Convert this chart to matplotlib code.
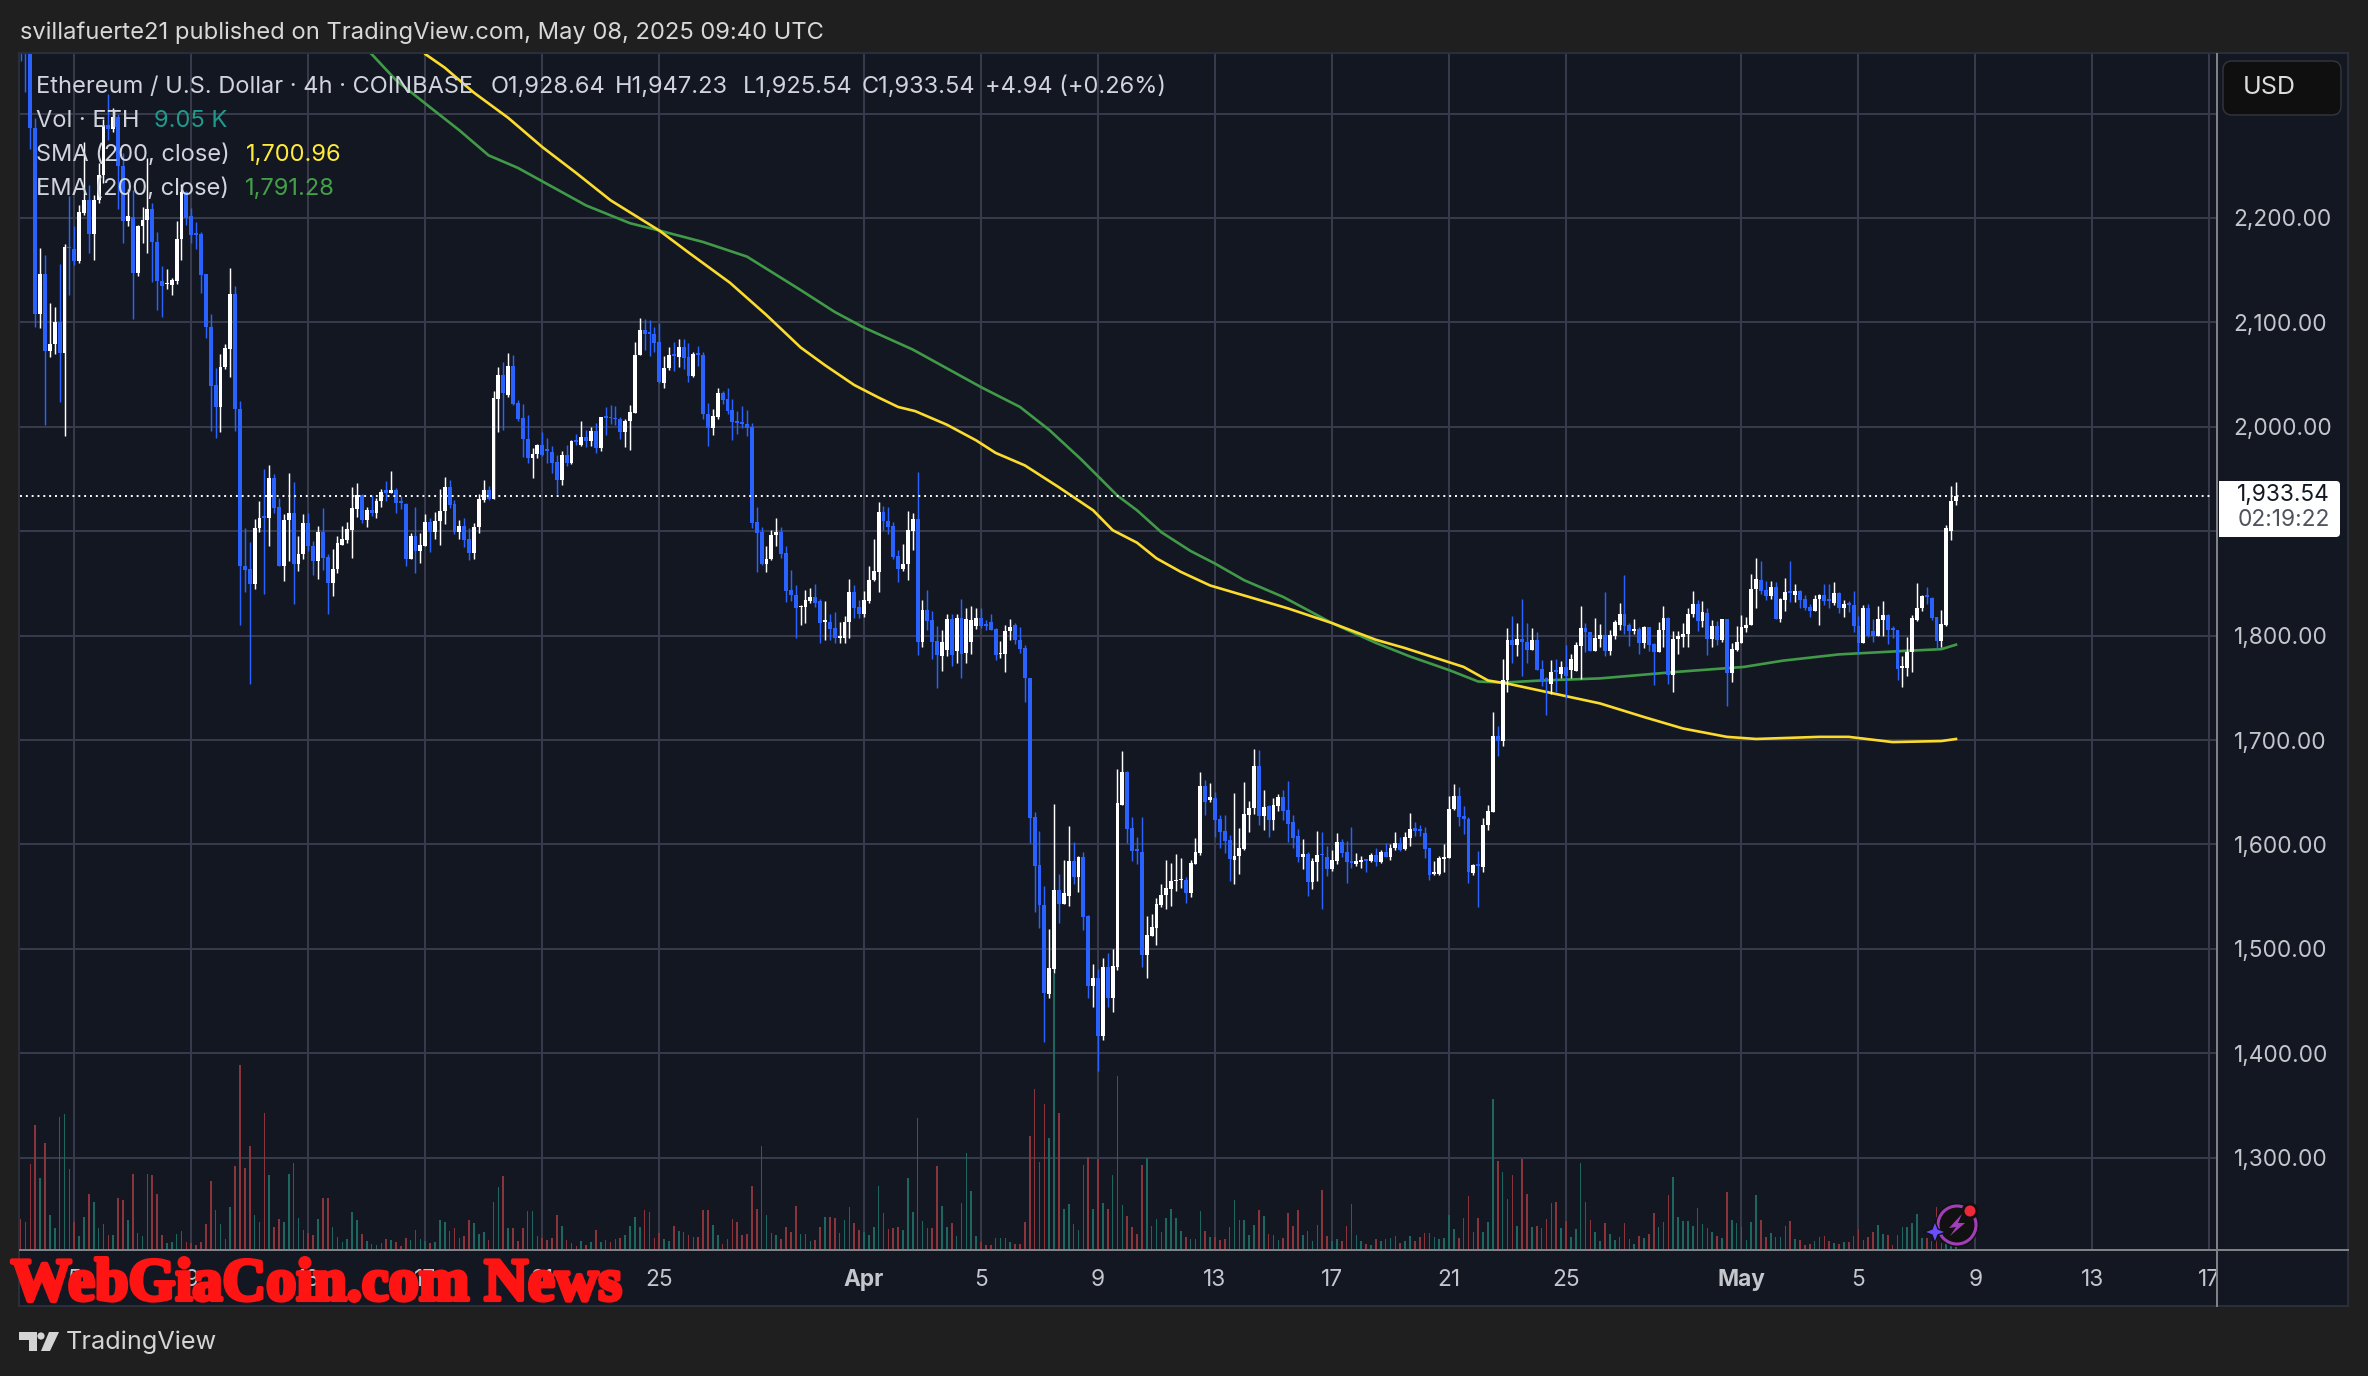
import matplotlib
matplotlib.use("Agg")
import matplotlib.pyplot as plt
import numpy as np
from matplotlib.patches import Circle, FancyBboxPatch, Polygon, Rectangle
from matplotlib.transforms import Bbox
import matplotlib.patheffects as pe

# 4h candles, first bar is Mar 3 04:00
opens = [2400,2375,2362,2286,2108,2146,2073,2079,2100,2071,
    2172,2170,2159,2205,2217,2185,2217,2241,2289,2285,
    2297,2250,2197,2201,2147,2192,2198,2209,2177,2140,
    2137,2136,2140,2180,2225,2202,2186,2185,2146,2096,
    2040,2019,2057,2075,2127,2017,1867,1864,1849,1903,
    1915,1913,1951,1923,1867,1911,1917,1869,1878,1908,
    1886,1871,1899,1875,1850,1864,1887,1892,1901,1921,
    1935,1911,1920,1917,1929,1939,1937,1939,1929,1926,
    1873,1895,1881,1886,1909,1899,1910,1919,1942,1926,
    1899,1905,1893,1879,1904,1930,1939,1931,2027,2050,
    2030,2058,2023,2008,1988,1970,1974,1983,1979,1976,
    1966,1949,1973,1965,1987,1983,1990,1986,1996,1980,
    2010,2009,2008,2007,1995,2006,2013,2069,2093,2091,
    2089,2081,2042,2056,2070,2067,2076,2067,2049,2071,
    2069,2012,1999,2009,2032,2027,2016,2006,2005,2003,
    2000,1909,1899,1869,1873,1896,1899,1879,1844,1839,
    1827,1827,1833,1837,1833,1813,1813,1807,1798,1798,
    1813,1842,1827,1821,1833,1853,1861,1918,1910,1905,
    1876,1864,1869,1900,1912,1794,1825,1815,1795,1780,
    1786,1816,1785,1817,1783,1794,1809,1817,1811,1813,
    1806,1782,1782,1804,1810,1796,1788,1759,1626,1580,
    1542,1457,1481,1556,1543,1551,1584,1569,1588,1531,
    1464,1472,1416,1483,1453,1483,1638,1669,1616,1596,
    1593,1494,1512,1520,1542,1552,1557,1565,1566,1566,
    1553,1581,1592,1656,1643,1644,1624,1613,1604,1585,
    1589,1596,1628,1635,1675,1627,1637,1623,1637,1645,
    1633,1621,1608,1588,1591,1564,1583,1591,1588,1576,
    1584,1602,1593,1584,1581,1583,1586,1584,1590,1583,
    1593,1588,1597,1601,1596,1606,1616,1615,1611,1597,
    1572,1572,1586,1587,1634,1646,1627,1624,1573,1581,
    1578,1619,1631,1704,1699,1757,1796,1791,1797,1794,
    1786,1796,1768,1759,1754,1767,1763,1770,1767,1766,
    1790,1807,1803,1785,1797,1801,1785,1800,1810,1821,
    1810,1804,1806,1793,1808,1792,1784,1805,1817,1762,
    1797,1799,1802,1821,1830,1814,1822,1797,1809,1796,
    1816,1764,1786,1793,1807,1810,1845,1853,1844,1838,
    1847,1816,1834,1843,1839,1843,1835,1827,1824,1835,
    1839,1835,1831,1841,1826,1831,1829,1809,1793,1826,
    1804,1800,1815,1820,1807,1805,1769,1769,1784,1815,
    1826,1839,1836,1818,1795,1810,1900,1928.64]

highs = [2420,2420,2380,2296,2171,2165,2119,2115,2156,2175,
    2221,2192,2212,2273,2232,2222,2253,2295,2319,2305,
    2300,2262,2228,2227,2193,2211,2257,2214,2187,2154,
    2151,2143,2197,2233,2226,2210,2196,2187,2146,2108,
    2056,2070,2079,2152,2135,2025,1903,1890,1912,1929,
    1960,1963,1955,1932,1916,1956,1947,1895,1916,1917,
    1891,1905,1922,1878,1883,1895,1905,1909,1942,1946,
    1936,1923,1935,1932,1940,1948,1958,1941,1934,1927,
    1898,1923,1898,1916,1913,1918,1940,1952,1949,1930,
    1911,1913,1903,1908,1936,1949,1943,2034,2057,2062,
    2071,2069,2026,2022,2011,1980,1984,1995,1989,1982,
    1973,1977,1983,1987,1993,2006,1997,2000,2004,2009,
    2019,2021,2020,2009,2007,2021,2081,2104,2103,2102,
    2096,2099,2068,2076,2081,2084,2084,2080,2072,2077,
    2072,2023,2017,2037,2034,2037,2027,2015,2020,2016,
    2004,1923,1904,1886,1901,1913,1904,1886,1863,1848,
    1829,1844,1846,1849,1835,1833,1821,1823,1813,1819,
    1854,1848,1834,1843,1867,1893,1928,1924,1923,1909,
    1882,1888,1919,1917,1957,1834,1844,1824,1809,1805,
    1821,1821,1821,1835,1826,1828,1826,1826,1815,1821,
    1807,1795,1810,1816,1812,1808,1791,1759,1631,1613,
    1560,1519,1639,1572,1585,1618,1602,1589,1593,1532,
    1485,1481,1491,1496,1500,1672,1689,1670,1626,1607,
    1626,1531,1533,1549,1562,1585,1582,1591,1587,1569,
    1585,1606,1669,1662,1659,1650,1628,1628,1609,1649,
    1616,1660,1642,1691,1690,1652,1638,1644,1648,1652,
    1661,1628,1615,1605,1593,1587,1613,1612,1598,1595,
    1611,1605,1603,1617,1592,1589,1586,1592,1597,1595,
    1601,1600,1612,1607,1612,1630,1621,1619,1617,1597,
    1584,1589,1600,1646,1658,1655,1637,1626,1581,1594,
    1625,1638,1727,1713,1778,1807,1819,1812,1835,1812,
    1807,1803,1777,1760,1777,1778,1776,1791,1782,1794,
    1828,1812,1803,1817,1811,1842,1805,1815,1831,1858,
    1812,1816,1808,1809,1808,1793,1813,1828,1818,1804,
    1804,1812,1826,1843,1834,1833,1826,1815,1814,1816,
    1816,1793,1809,1820,1818,1859,1874,1871,1852,1852,
    1851,1836,1855,1871,1849,1844,1839,1830,1839,1840,
    1849,1849,1851,1842,1834,1833,1843,1819,1829,1830,
    1816,1828,1833,1821,1809,1805,1780,1799,1820,1850,
    1839,1847,1837,1818,1825,1906,1943,1947.23]

lows = [2350,2321,2266,2096,2095,2002,2067,2070,2024,1991,
    2126,2155,2157,2203,2166,2160,2214,2234,2275,2282,
    2209,2176,2192,2103,2144,2176,2166,2139,2112,2105,
    2132,2126,2137,2160,2193,2176,2170,2128,2085,1996,
    1989,1995,2055,2048,1996,1810,1842,1754,1845,1899,
    1840,1886,1917,1867,1852,1871,1830,1862,1873,1881,
    1858,1854,1863,1821,1838,1860,1887,1889,1874,1914,
    1908,1904,1915,1913,1923,1929,1937,1917,1921,1867,
    1873,1860,1870,1886,1880,1893,1887,1907,1922,1897,
    1893,1885,1872,1873,1898,1928,1930,1931,1995,1997,
    2029,2021,2006,1971,1965,1951,1970,1972,1965,1956,
    1936,1944,1962,1964,1983,1982,1981,1982,1975,1977,
    1992,2003,2002,1988,1981,1978,2013,2069,2074,2068,
    2072,2042,2037,2054,2053,2057,2055,2043,2048,2058,
    2007,1982,1992,2007,2022,2012,1987,1993,1999,1991,
    1903,1861,1868,1861,1872,1886,1874,1832,1833,1798,
    1810,1812,1831,1827,1793,1796,1796,1793,1793,1793,
    1798,1817,1817,1818,1831,1852,1842,1901,1897,1873,
    1851,1862,1853,1882,1781,1789,1805,1778,1750,1766,
    1780,1771,1774,1759,1774,1782,1806,1807,1805,1805,
    1777,1779,1765,1796,1792,1783,1736,1601,1535,1520,
    1411,1453,1477,1525,1543,1541,1562,1554,1518,1453,
    1444,1383,1413,1444,1439,1480,1638,1601,1584,1581,
    1483,1472,1512,1504,1540,1538,1541,1555,1558,1544,
    1550,1581,1590,1628,1641,1607,1597,1592,1565,1562,
    1572,1595,1612,1629,1619,1614,1607,1614,1632,1623,
    1602,1597,1583,1576,1551,1557,1565,1538,1570,1575,
    1581,1588,1563,1577,1579,1577,1574,1583,1579,1582,
    1588,1585,1595,1594,1595,1598,1608,1608,1587,1566,
    1571,1571,1574,1587,1633,1618,1610,1563,1571,1540,
    1574,1614,1631,1685,1694,1746,1774,1780,1761,1774,
    1786,1767,1752,1724,1744,1746,1759,1740,1759,1766,
    1758,1784,1785,1785,1789,1780,1781,1797,1805,1802,
    1790,1802,1782,1788,1785,1753,1784,1789,1754,1746,
    1782,1789,1789,1818,1804,1808,1781,1789,1791,1794,
    1733,1756,1785,1793,1803,1810,1826,1840,1834,1835,
    1816,1813,1824,1832,1832,1826,1825,1818,1824,1810,
    1829,1826,1829,1822,1818,1823,1803,1782,1793,1799,
    1794,1800,1800,1792,1798,1757,1751,1761,1765,1814,
    1824,1830,1815,1787,1789,1809,1892,1925.54]

closes = [2375,2362,2286,2108,2146,2073,2079,2100,2071,2172,
    2171,2159,2206,2217,2185,2217,2241,2287,2285,2297,
    2250,2197,2202,2147,2192,2198,2209,2177,2140,2135,
    2138,2141,2180,2225,2200,2184,2184,2145,2096,2039,
    2019,2057,2075,2127,2017,1867,1863,1849,1903,1913,
    1913,1951,1922,1867,1911,1917,1869,1878,1908,1886,
    1871,1899,1874,1850,1864,1889,1893,1902,1922,1935,
    1911,1920,1917,1929,1938,1937,1939,1927,1927,1873,
    1895,1881,1887,1909,1899,1910,1919,1942,1925,1899,
    1905,1892,1879,1904,1931,1939,1931,2028,2050,2032,
    2058,2022,2007,1988,1970,1974,1983,1973,1977,1965,
    1949,1973,1965,1986,1985,1990,1986,1996,1980,2009,
    2008,2008,2007,1995,2006,2014,2069,2093,2089,2089,
    2080,2043,2056,2069,2068,2076,2066,2049,2070,2069,
    2012,1999,2010,2032,2026,2015,2005,2004,2003,1999,
    1908,1898,1869,1873,1896,1899,1878,1843,1839,1826,
    1828,1834,1837,1831,1812,1815,1806,1798,1800,1813,
    1842,1826,1821,1834,1853,1862,1918,1910,1904,1875,
    1864,1869,1901,1912,1794,1825,1814,1794,1781,1794,
    1816,1781,1817,1782,1816,1815,1817,1809,1809,1805,
    1781,1783,1804,1808,1796,1787,1759,1625,1579,1542,
    1458,1482,1556,1543,1553,1584,1569,1588,1530,1464,
    1472,1416,1483,1453,1484,1640,1669,1615,1594,1594,
    1494,1513,1521,1543,1552,1558,1565,1566,1567,1553,
    1582,1593,1656,1641,1645,1623,1612,1603,1586,1589,
    1597,1629,1635,1675,1627,1636,1623,1638,1645,1632,
    1620,1606,1588,1591,1564,1584,1590,1590,1576,1585,
    1602,1592,1583,1582,1584,1585,1584,1590,1583,1593,
    1588,1597,1601,1595,1607,1615,1613,1613,1596,1571,
    1574,1587,1588,1634,1646,1626,1624,1574,1580,1579,
    1619,1632,1704,1699,1757,1796,1791,1797,1794,1786,
    1796,1767,1756,1757,1765,1765,1770,1761,1778,1791,
    1807,1803,1785,1798,1801,1785,1801,1813,1821,1809,
    1804,1806,1793,1808,1791,1784,1805,1817,1762,1797,
    1800,1802,1821,1830,1814,1823,1797,1809,1796,1816,
    1764,1787,1794,1808,1810,1845,1854,1843,1838,1847,
    1816,1835,1842,1841,1843,1834,1826,1824,1835,1839,
    1833,1833,1841,1826,1830,1829,1809,1793,1826,1800,
    1800,1816,1820,1805,1805,1768,1771,1784,1817,1826,
    1838,1837,1817,1795,1811,1903,1929,1933.54]

# volume in thirds of 1K ETH, the last bar is the 9.05 K of the legend
volumes = [94,85,259,376,217,322,106,67,400,409,
    244,85,43,100,168,145,67,79,46,46,
    157,151,91,229,52,43,229,226,169,46,
    22,25,49,58,25,22,16,25,79,208,
    121,79,34,130,253,556,247,313,106,85,
    412,226,70,94,85,229,262,97,61,52,
    46,94,157,157,70,40,25,34,115,91,
    49,28,19,16,22,34,31,25,13,37,
    31,61,34,28,22,25,91,85,58,67,
    37,43,91,82,49,55,31,145,190,223,
    67,67,28,67,118,118,43,37,31,37,
    106,73,31,22,13,28,16,25,61,25,
    31,25,34,37,46,73,100,70,121,115,
    37,52,34,28,73,58,55,46,40,40,
    121,121,76,46,19,34,94,85,46,49,
    193,124,313,106,52,46,34,70,55,133,
    49,49,28,31,70,100,100,97,52,91,
    130,82,61,55,46,70,193,112,64,67,
    70,61,217,115,397,88,67,67,253,133,
    70,82,43,142,292,178,43,25,16,16,
    37,37,37,25,19,19,85,343,484,265,
    439,337,828,412,124,139,79,61,256,280,
    124,274,142,124,226,523,136,103,70,49,
    256,277,73,94,55,97,124,97,58,40,
    34,34,118,58,40,40,31,34,70,151,
    91,91,46,76,121,103,49,46,31,37,
    112,73,121,46,58,28,76,181,43,28,
    34,28,73,139,46,28,19,16,34,28,
    34,37,43,22,28,43,28,40,52,52,
    40,34,37,106,64,37,97,163,55,97,
    55,85,454,268,235,154,226,73,274,169,
    70,73,67,94,142,145,67,88,40,64,
    262,145,91,55,28,82,49,31,40,82,
    34,19,43,37,49,112,70,85,166,220,
    100,88,88,73,127,79,67,55,43,37,
    175,91,82,70,31,85,166,91,40,52,
    40,40,73,88,34,31,16,19,28,40,
    43,28,22,19,25,25,43,64,31,40,
    55,76,49,46,16,46,70,70,82,109,
    37,37,28,130,22,90,50,27]

# moving averages, read at the bars where the curves bend
sma_bars = [80,83,87,93,100,107,114,121,131,137,145.5,153,160,165,171,176,180,183.5,190,196,200,206,213,
    220,224,229,233,238,244,252,260,269,278,284,296,301,305,313,324,333,341,350,356,369,375,384,394,397]
sma_vals = [2375,2357,2344,2320,2296,2268,2243,2217,2188,2167,2138,2107,2076,2059,2040,2028,2019,2015,2002,1987,1975,1963,1942,
    1920,1901,1889,1874,1861,1848,1837,1826,1812,1796,1788,1770,1757,1754,1746,1735,1722,1711,1703,1701,1703,1703,1698,1699,1700.96]
ema_bars = [68,72,77,84,90,96,102,109,116,125,131,140,149,160,167,173,183,190,197,205,211,217.5,225,229,234,240,245,
    251,259,269,278,285,293,299,304,312,324,339,353.5,361.5,373,385,394,397]
ema_vals = [2372,2357,2332,2306,2284,2260,2248,2230,2212,2195,2188,2177,2163,2131,2110,2095,2074,2056,2038,2019,1997,1969,1934,1920,1899,1881,1869,
    1853,1837,1812,1793,1780,1767,1756,1755,1757,1759,1765,1770,1776,1782,1785,1787,1791.28]

price_ticks = [1300,1400,1500,1600,1700,1800,1900,2000,2100,2200,2300]
price_labels = ['1,300.00','1,400.00','1,500.00','1,600.00','1,700.00','1,800.00','','2,000.00','2,100.00','2,200.00','']
# days counted from Mar 1
date_ticks = [4,8,12,16,20,24,31,35,39,43,47,51,55,61,65,69,73,77]
date_labels = ['5','9','13','17','21','25','Apr','5','9','13','17','21','25','May','5','9','13','17']
last_price = 1933.54

W, H = 2368, 1376
OUTER = '#1f1f1f'
PANEL = '#131722'
GRID = '#363a4a'
AXIS = '#7f8187'
TEXT = '#d1d4dc'
FONT = ['Inter', 'DejaVu Sans']

plt.rcParams['font.family'] = FONT

fig = plt.figure(figsize=(W/100, H/100), dpi=100, facecolor=OUTER)

# price area in pixels: x 20-2217, y 54-1250
ax = fig.add_axes([20/W, 1-1250/H, 2197/W, 1196/H], facecolor=PANEL, zorder=2)
ax.set_xlim((20+42.75)/29.25, (2217+42.75)/29.25)
ymin = 2200-(1250-218)/1.044
ymax = 2200+(218-54)/1.044
ax.set_ylim(ymin, ymax)

o = np.array(opens)
h = np.array(highs)
l = np.array(lows)
c = np.array(closes)
v = np.array(volumes)
first_day = 2+1/6
days = first_day+np.arange(len(c))/6
up = c >= o

ax.bar(days, v/(3*1.044), bottom=ymin, width=0.052,
       color=np.where(up, '#1e6660', '#8a343b'), linewidth=0, zorder=2)

ax.plot(first_day+np.array(ema_bars)/6, ema_vals, color='#419a48', lw=1.9, zorder=3)
ax.plot(first_day+np.array(sma_bars)/6, sma_vals, color='#fbdc2e', lw=1.9, zorder=3)

candle_cols = np.where(up, '#ffffff', '#2962ff')
ax.vlines(days, l, h, colors=candle_cols, lw=1.05, zorder=4)
ax.bar(days, np.abs(c-o), bottom=np.minimum(o, c), width=0.132,
       color=candle_cols, linewidth=0, zorder=5)

ax.axhline(last_price, xmax=(2212-20)/2197, color='white', lw=1.4, ls=(0, (1, 2)), zorder=6)

ax.set_axisbelow(True)
ax.grid(True, color=GRID, lw=1.45)
ax.set_xticks(date_ticks)
ax.set_xticklabels(date_labels)
ax.set_yticks(price_ticks)
ax.set_yticklabels(price_labels)
ax.yaxis.tick_right()
ax.tick_params(axis='both', length=0, labelsize=16.3, labelcolor='#c4c6cc')
ax.tick_params(axis='y', pad=12)
ax.tick_params(axis='x', pad=14)
for lab in ax.get_xticklabels():
    if lab.get_text() in ('Apr', 'May'):
        lab.set_fontweight('bold')
    # the last date runs under the price scale
    lab.set_clip_box(Bbox([[0, 0], [2217, H]]))
    lab.set_clip_on(True)
for side in ['top', 'left', 'right', 'bottom']:
    ax.spines[side].set_visible(False)

# everything around the chart, in pixel coordinates
back = fig.add_axes([0, 0, 1, 1], zorder=1)
back.set_xlim(0, W)
back.set_ylim(H, 0)
back.axis('off')
back.add_patch(Rectangle((19, 53), 2329, 1253, facecolor=PANEL, edgecolor='#2a2e39', lw=1.5))

top = fig.add_axes([0, 0, 1, 1], zorder=3)
top.set_xlim(0, W)
top.set_ylim(H, 0)
top.axis('off')
top.patch.set_alpha(0)

top.plot([2217, 2217], [54, 1306], color=AXIS, lw=1.45)
top.plot([20, 2348], [1250, 1250], color=AXIS, lw=1.45)

top.text(20, 33, 'svillafuerte21 published on TradingView.com, May 08, 2025 09:40 UTC',
         color='#d8d8d8', fontsize=17.1, va='center')

legend_parts = [(36, 'Ethereum / U.S. Dollar · 4h · COINBASE'), (491, 'O1,928.64'), (615, 'H1,947.23'),
                (743, 'L1,925.54'), (862, 'C1,933.54'), (985, '+4.94 (+0.26%)')]
for x, s in legend_parts:
    top.text(x, 87, s, color=TEXT, fontsize=17, va='center')
top.text(36, 121, 'Vol · ETH', color=TEXT, fontsize=17, va='center')
top.text(154, 121, '9.05 K', color='#1f9a8c', fontsize=17, va='center')
top.text(36, 155, 'SMA (200, close)', color=TEXT, fontsize=17, va='center')
top.text(246, 155, '1,700.96', color='#ffeb3b', fontsize=17, va='center')
top.text(36, 189, 'EMA (200, close)', color=TEXT, fontsize=17, va='center')
top.text(245, 189, '1,791.28', color='#43a047', fontsize=17, va='center')

# currency button
top.add_patch(FancyBboxPatch((2226, 64), 112, 48, boxstyle='round,pad=3,rounding_size=9',
                             facecolor='#0f0f0f', edgecolor='#34363c', lw=1))
top.text(2243, 88, 'USD', color='#dcdcdc', fontsize=18, va='center')

# last price tag
top.add_patch(FancyBboxPatch((2222, 484), 115, 50, boxstyle='round,pad=3,rounding_size=4',
                             facecolor='white', edgecolor='none'))
top.add_patch(Rectangle((2219, 481), 12, 56, facecolor='white', edgecolor='none'))
top.text(2330, 495, '1,933.54', color='#131722', fontsize=16.3, ha='right', va='center')
top.text(2330, 520, '02:19:22', color='#50535e', fontsize=16.3, ha='right', va='center')

# TradingView logo
top.add_patch(Polygon([(19, 1332), (37, 1332), (37, 1351), (29, 1351), (29, 1340), (19, 1340)],
                      facecolor='#d4d4d4', edgecolor='none'))
top.add_patch(Circle((41, 1336), 3.6, facecolor='#d4d4d4', edgecolor='none'))
top.add_patch(Polygon([(49, 1332), (59, 1332), (50, 1351), (41, 1351)], facecolor='#d4d4d4', edgecolor='none'))
top.text(66, 1342, 'TradingView', color='#d4d4d4', fontsize=18.2, va='center')

# the little icon over the last volume bars
top.add_patch(Circle((1957, 1225), 22, facecolor='#111111', edgecolor='none'))
top.add_patch(Circle((1957, 1225), 19, facecolor='none', edgecolor='#a23fb8', lw=2.2))
top.add_patch(Polygon([(1962, 1214), (1949, 1228), (1956, 1227), (1950, 1236), (1965, 1223), (1958, 1223)],
                      facecolor='#a23fb8', edgecolor='none'))
top.add_patch(Circle((1970, 1211), 8.5, facecolor='#111111', edgecolor='none'))
top.add_patch(Circle((1970, 1211), 5.5, facecolor='#f0283c', edgecolor='none'))
top.add_patch(Polygon([(1935, 1221), (1938, 1229), (1946, 1232), (1938, 1235), (1935, 1243), (1932, 1235), (1924, 1232), (1932, 1229)],
                      facecolor='#6a4dff', edgecolor='#111111', lw=1))

# watermark
top.text(11, 1286, 'WebGiaCoin.com News', color='#ff1414', fontsize=43.5, va='center',
         family=['Liberation Serif', 'DejaVu Serif'], fontweight='bold',
         path_effects=[pe.withStroke(linewidth=3, foreground='#ff1414')])

fig.savefig('out.png', dpi=100, facecolor=OUTER)
